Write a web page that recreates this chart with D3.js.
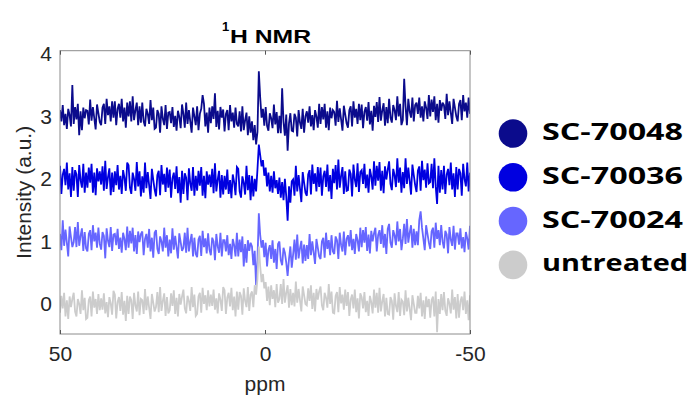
<!DOCTYPE html>
<html>
<head>
<meta charset="utf-8">
<script src="https://cdn.jsdelivr.net/npm/d3@7"></script>
<style>
  html, body { margin: 0; padding: 0; background: #fff; }
  svg { display: block; }
</style>
</head>
<body>
<svg id="chart" width="689" height="402"></svg>
<script>
// ---------- data ----------
const seriesNames = ["SC-70048", "SC-70036", "SC-70024", "untreated"];
const seriesColors = ["#0b0b8c", "#0000e0", "#6666ff", "#cccccc"];
const xTicks = [50, 0, -50];
const yTicks = [0, 1, 2, 3, 4];

const s70048 = [
  3.10, 2.92, 3.18, 2.86, 3.04, 2.80, 3.12, 3.02, 2.84, 3.50,
  2.88, 3.15, 2.95, 3.20, 2.70, 3.08, 2.78, 3.14, 2.97, 3.10,
  3.09, 2.87, 3.27, 2.93, 3.15, 2.97, 2.79, 3.19, 3.05, 2.91,
  2.86, 3.14, 3.20, 2.88, 3.28, 3.02, 3.16, 2.92, 3.24, 2.98,
  3.24, 2.86, 3.12, 3.20, 2.98, 3.28, 2.92, 3.14, 2.82, 3.22,
  3.00, 3.24, 2.92, 3.32, 2.94, 3.10, 3.22, 2.86, 3.16, 2.90,
  3.22, 2.92, 2.84, 3.12, 3.04, 2.88, 3.26, 2.94, 3.14, 2.80,
  2.82, 3.10, 3.04, 2.74, 3.16, 2.96, 2.86, 3.18, 2.80, 3.06,
  3.07, 2.89, 3.15, 2.83, 3.01, 2.77, 3.09, 2.99, 2.81, 3.19,
  3.04, 2.82, 3.22, 2.88, 3.10, 2.92, 2.74, 3.14, 3.00, 2.86,
  3.16, 2.78, 3.04, 3.12, 3.34, 3.20, 2.84, 3.06, 2.74, 3.14,
  2.89, 3.16, 2.96, 3.37, 2.83, 3.09, 2.79, 3.15, 2.98, 3.11,
  2.76, 3.04, 3.10, 2.78, 3.18, 2.92, 3.06, 2.82, 3.14, 2.88,
  2.84, 3.08, 2.76, 3.16, 2.78, 2.94, 3.06, 2.70, 3.00, 2.74,
  2.92, 2.62, 2.86, 2.55, 2.75, 3.72, 3.30, 2.98, 3.12, 2.85,
  3.15, 2.85, 2.77, 3.05, 2.97, 2.81, 3.19, 2.87, 3.07, 2.73,
  3.01, 2.73, 3.45, 2.91, 2.69, 3.03, 2.45, 2.89, 3.05, 2.77,
  2.76, 3.04, 2.98, 2.68, 3.10, 2.90, 2.80, 3.12, 2.74, 3.00,
  3.08, 2.90, 3.16, 2.84, 3.02, 2.78, 3.10, 3.00, 2.82, 3.20,
  2.88, 3.15, 2.95, 3.20, 2.82, 3.08, 2.78, 3.14, 2.97, 3.10,
  3.07, 2.85, 3.25, 2.91, 3.13, 2.95, 2.77, 3.17, 3.03, 2.89,
  2.82, 3.10, 3.16, 2.84, 3.24, 2.98, 3.12, 2.88, 3.20, 2.94,
  3.19, 2.81, 3.07, 3.15, 2.93, 3.23, 2.87, 3.09, 2.77, 3.17,
  2.99, 3.23, 2.91, 3.31, 2.93, 3.09, 3.21, 2.85, 3.15, 2.89,
  3.28, 2.98, 2.90, 3.18, 3.10, 2.94, 3.32, 3.00, 3.20, 2.86,
  2.94, 3.60, 3.16, 2.86, 3.28, 3.08, 2.98, 3.30, 2.92, 3.18,
  3.22, 3.04, 3.30, 2.98, 3.16, 2.92, 3.24, 3.14, 2.96, 3.34,
  3.00, 3.27, 3.07, 3.32, 2.94, 3.20, 2.90, 3.26, 3.09, 3.22,
  3.18, 2.96, 3.36, 3.02, 3.24, 3.06, 2.88, 3.28, 3.14, 3.00,
  2.92, 3.20, 3.26, 2.94, 3.34, 3.08, 3.22, 2.98, 3.30, 3.04
];

const s70036 = [
  2.21, 1.76, 2.07, 2.16, 1.90, 2.26, 1.83, 2.09, 1.71, 2.19,
  1.81, 2.14, 2.07, 1.71, 2.22, 1.98, 1.86, 2.24, 1.78, 2.10,
  1.86, 2.18, 1.94, 2.24, 1.78, 2.10, 1.74, 2.17, 1.96, 2.12,
  1.91, 2.20, 1.81, 2.29, 1.84, 2.03, 2.17, 1.74, 2.10, 1.79,
  2.12, 1.90, 2.22, 1.83, 2.05, 1.76, 2.14, 2.02, 1.81, 2.26,
  2.22, 1.86, 1.76, 2.10, 2.00, 1.81, 2.27, 1.88, 2.12, 1.72,
  2.04, 1.78, 2.26, 1.85, 2.11, 1.90, 1.68, 2.16, 1.99, 1.83,
  1.72, 2.06, 2.13, 1.74, 2.22, 1.91, 2.08, 1.79, 2.18, 1.86,
  2.15, 1.70, 2.01, 2.10, 1.84, 2.20, 1.77, 2.03, 1.62, 2.13,
  1.76, 2.09, 2.02, 1.66, 2.17, 1.93, 1.81, 2.19, 1.73, 2.05,
  1.81, 2.13, 1.89, 2.19, 1.73, 2.05, 1.69, 2.12, 1.91, 2.07,
  1.87, 2.16, 1.77, 2.25, 1.80, 1.99, 2.13, 1.70, 2.06, 1.75,
  2.05, 1.83, 2.15, 1.76, 1.98, 1.69, 2.07, 1.95, 1.74, 2.19,
  2.16, 1.80, 1.70, 2.04, 1.94, 1.75, 2.21, 1.82, 2.06, 1.66,
  2.05, 1.72, 2.00, 1.80, 2.15, 2.55, 2.38, 2.20, 2.30, 2.05,
  2.18, 1.88, 2.10, 1.80, 2.05, 1.78, 2.12, 1.85, 1.98, 1.76,
  2.02, 1.70, 1.95, 1.66, 2.00, 1.72, 1.33, 1.88, 1.62, 1.96,
  1.99, 1.73, 2.21, 1.80, 2.06, 1.85, 1.63, 2.11, 1.94, 1.78,
  1.73, 2.07, 2.14, 1.75, 2.23, 1.92, 2.09, 1.80, 2.19, 1.87,
  2.18, 1.73, 2.04, 2.13, 1.87, 2.23, 1.80, 2.06, 1.68, 2.16,
  1.93, 2.22, 1.83, 2.31, 1.86, 2.05, 2.19, 1.76, 2.12, 1.81,
  1.82, 2.15, 2.08, 1.72, 2.23, 1.99, 1.87, 2.25, 1.79, 2.11,
  2.14, 1.92, 2.24, 1.85, 2.07, 1.78, 2.16, 2.04, 1.83, 2.28,
  1.89, 2.21, 1.97, 2.27, 1.81, 2.13, 1.77, 2.20, 1.99, 2.15,
  2.28, 1.92, 1.82, 2.16, 2.06, 1.87, 2.33, 1.94, 2.18, 1.78,
  2.11, 1.85, 2.33, 1.92, 2.18, 1.97, 1.75, 2.23, 2.06, 1.90,
  1.79, 2.13, 2.20, 1.81, 2.29, 1.98, 2.15, 1.86, 2.25, 1.93,
  1.95, 2.24, 1.85, 2.33, 1.88, 1.60, 2.21, 1.78, 2.14, 1.83,
  2.21, 1.76, 2.07, 2.16, 1.90, 2.26, 1.83, 2.09, 1.71, 2.19,
  1.83, 2.16, 2.09, 1.73, 2.24, 2.00, 1.88, 2.26, 1.80, 2.10
];

const s70024 = [
  1.12, 0.86, 1.34, 0.93, 1.19, 0.98, 0.76, 1.24, 1.07, 0.91,
  0.99, 1.23, 0.91, 1.31, 0.93, 1.09, 1.21, 0.85, 1.15, 0.89,
  0.84, 1.12, 1.18, 0.86, 1.26, 1.00, 1.14, 0.90, 1.22, 0.96,
  0.87, 1.15, 1.09, 0.73, 1.21, 1.01, 0.91, 1.23, 0.85, 1.11,
  1.12, 0.94, 1.20, 0.88, 1.06, 0.82, 1.14, 1.04, 0.86, 1.24,
  0.90, 1.17, 0.97, 1.22, 0.84, 1.10, 0.80, 1.16, 0.99, 1.12,
  1.16, 0.78, 1.04, 1.12, 0.90, 1.20, 0.84, 1.06, 0.74, 1.14,
  1.18, 0.88, 0.80, 1.08, 1.00, 0.84, 1.22, 0.90, 1.10, 0.76,
  1.03, 0.81, 1.21, 0.87, 1.09, 0.91, 0.73, 1.13, 0.99, 0.85,
  0.90, 1.14, 0.82, 1.22, 0.84, 1.00, 1.12, 0.76, 1.06, 0.80,
  0.75, 1.03, 1.09, 0.77, 1.17, 0.91, 1.05, 0.81, 1.13, 0.87,
  0.78, 1.06, 1.00, 0.70, 1.12, 0.92, 0.82, 1.14, 0.76, 1.02,
  1.02, 0.84, 1.10, 0.78, 0.96, 0.72, 1.04, 0.94, 0.76, 1.14,
  0.76, 1.03, 0.83, 1.08, 0.60, 0.96, 0.66, 1.02, 0.85, 0.98,
  0.92, 0.62, 0.85, 0.30, 0.70, 1.45, 1.10, 0.90, 1.02, 0.75,
  0.98, 0.60, 0.86, 0.94, 0.72, 1.02, 0.66, 0.88, 0.56, 0.96,
  1.00, 0.70, 0.62, 0.90, 0.82, 0.66, 0.45, 0.72, 0.92, 0.58,
  0.79, 1.03, 0.71, 1.11, 0.73, 0.89, 1.01, 0.65, 0.95, 0.69,
  0.94, 0.72, 1.12, 0.78, 1.00, 0.82, 0.64, 1.04, 0.90, 0.76,
  0.72, 1.00, 1.06, 0.74, 1.14, 0.88, 1.02, 0.78, 1.10, 0.84,
  0.80, 1.08, 1.02, 0.72, 1.14, 0.94, 0.84, 1.16, 0.78, 1.04,
  1.10, 0.92, 1.18, 0.86, 1.04, 0.80, 1.12, 1.02, 0.84, 1.22,
  0.91, 1.18, 0.98, 1.23, 0.85, 1.11, 0.81, 1.17, 1.00, 1.13,
  1.22, 0.84, 1.10, 1.18, 0.96, 1.26, 0.90, 1.12, 0.80, 1.20,
  1.28, 0.98, 0.90, 1.18, 1.10, 0.94, 1.32, 1.00, 1.20, 0.86,
  1.04, 1.28, 0.96, 1.36, 0.98, 1.14, 1.26, 0.90, 1.20, 0.94,
  1.16, 0.94, 1.34, 1.48, 1.22, 1.04, 0.86, 1.26, 1.12, 0.98,
  0.88, 1.16, 1.22, 0.90, 1.30, 1.04, 1.18, 0.94, 1.26, 1.00,
  0.89, 1.17, 1.11, 0.81, 1.23, 1.03, 0.93, 1.25, 0.87, 1.13,
  1.13, 0.95, 1.21, 0.89, 1.07, 0.83, 1.15, 1.05, 0.87, 1.25
];

const untreated = [
  -0.14, 0.13, -0.07, 0.18, -0.20, 0.06, -0.24, 0.12, -0.05, 0.08,
  0.18, -0.12, -0.20, 0.08, 0.00, -0.16, 0.22, -0.10, 0.10, -0.24,
  -0.22, 0.06, 0.12, -0.20, 0.20, -0.06, 0.08, -0.16, 0.16, -0.10,
  0.09, -0.09, 0.17, -0.15, 0.03, -0.21, 0.11, 0.01, -0.17, 0.21,
  0.15, -0.23, 0.03, 0.11, -0.11, 0.19, -0.17, 0.05, -0.27, 0.13,
  -0.16, 0.12, 0.06, -0.24, 0.18, -0.02, -0.12, 0.20, -0.18, 0.08,
  0.06, -0.16, 0.24, -0.10, 0.12, -0.06, -0.24, 0.16, 0.02, -0.12,
  -0.05, 0.19, -0.13, 0.27, -0.11, 0.05, 0.17, -0.19, 0.11, -0.15,
  -0.10, 0.17, -0.03, 0.22, -0.16, 0.10, -0.20, 0.16, -0.01, 0.12,
  0.23, -0.07, -0.15, 0.13, 0.05, -0.11, 0.27, -0.05, 0.15, -0.19,
  -0.16, 0.12, 0.18, -0.14, 0.26, 0.00, 0.14, -0.10, 0.22, -0.04,
  0.15, -0.03, 0.23, -0.09, 0.09, -0.15, 0.17, 0.07, -0.11, 0.27,
  0.22, -0.16, 0.10, 0.18, -0.04, 0.26, -0.10, 0.12, -0.20, 0.20,
  -0.09, 0.19, 0.13, -0.17, 0.25, 0.05, -0.05, 0.27, -0.11, 0.15,
  0.20, -0.05, 0.30, 0.15, 0.40, 0.92, 0.60, 0.35, 0.48, 0.25,
  0.35, 0.05, 0.28, -0.02, 0.30, 0.08, 0.22, -0.05, 0.32, 0.02,
  0.08, 0.32, 0.00, 0.40, 0.02, 0.18, 0.30, -0.06, 0.24, -0.02,
  0.18, -0.04, 0.36, 0.02, 0.24, 0.06, -0.12, 0.28, 0.14, 0.00,
  -0.02, 0.25, 0.05, 0.30, -0.08, 0.18, -0.12, 0.24, 0.07, 0.20,
  0.28, -0.02, -0.10, 0.18, 0.10, -0.06, 0.32, 0.00, 0.20, -0.14,
  -0.15, 0.13, 0.19, -0.13, 0.27, 0.01, 0.15, -0.09, 0.23, -0.03,
  0.19, -0.19, 0.07, 0.15, -0.07, 0.23, -0.13, 0.09, -0.23, 0.17,
  0.11, -0.07, 0.19, -0.13, 0.05, -0.19, 0.13, 0.03, -0.15, 0.23,
  -0.06, 0.18, -0.14, 0.26, -0.12, 0.04, 0.16, -0.20, 0.10, -0.16,
  -0.17, 0.11, 0.05, -0.25, 0.17, -0.03, -0.13, 0.19, -0.19, 0.07,
  0.04, -0.18, 0.22, -0.12, 0.10, -0.08, -0.26, 0.14, 0.00, -0.14,
  -0.14, 0.13, -0.07, 0.18, -0.20, 0.06, -0.24, 0.12, -0.05, 0.08,
  -0.22, 0.06, 0.12, -0.20, 0.20, -0.45, 0.08, -0.16, 0.16, -0.10,
  0.19, -0.11, -0.19, 0.09, 0.01, -0.15, 0.23, -0.09, 0.11, -0.23,
  0.16, -0.22, 0.04, 0.12, -0.10, 0.20, -0.16, 0.06, -0.26, 0.14
];

const seriesValues = [s70048, s70036, s70024, untreated];
const ppmStart = 50, ppmEnd = -50;

// ---------- layout ----------
const svg = d3.select("#chart");
const plot = { left: 60, right: 470, top: 50.7, bottom: 334 };
const x = d3.scaleLinear().domain([ppmStart, ppmEnd]).range([plot.left, plot.right]);
const y = d3.scaleLinear().domain([-0.48, 4.05]).range([plot.bottom, plot.top]);
const fontTick = "'Liberation Sans', Arial, Helvetica, sans-serif";

svg.append("defs").append("clipPath").attr("id", "clip")
  .append("rect")
  .attr("x", plot.left).attr("y", plot.top)
  .attr("width", plot.right - plot.left).attr("height", plot.bottom - plot.top);

// traces (draw order: 70024, 70036, 70048, untreated on top)
const drawOrder = [2, 1, 0, 3];
const line = d3.line()
  .x(d => x(d.ppm))
  .y(d => y(d.v));
const gTr = svg.append("g").attr("clip-path", "url(#clip)");
drawOrder.forEach(si => {
  const vals = seriesValues[si];
  const n = vals.length;
  const pts = vals.map((v, i) => ({ ppm: ppmStart + (ppmEnd - ppmStart) * i / (n - 1), v }));
  gTr.append("path")
    .attr("d", line(pts))
    .attr("fill", "none")
    .attr("stroke", seriesColors[si])
    .attr("stroke-width", 1.8)
    .attr("stroke-linejoin", "miter")
    .attr("stroke-miterlimit", 3);
});

// frame
svg.append("rect")
  .attr("x", plot.left).attr("y", plot.top)
  .attr("width", plot.right - plot.left).attr("height", plot.bottom - plot.top)
  .attr("fill", "none").attr("stroke", "#8c8c8c").attr("stroke-width", 1);

// x axis (bottom, ticks inside) and top ticks
const fmt = d => String(d);
const xAxis = d3.axisBottom(x).tickValues(xTicks).tickSize(-4).tickPadding(12).tickFormat(fmt);
const gx = svg.append("g").attr("transform", `translate(0,${plot.bottom})`).call(xAxis);
gx.select(".domain").remove();
gx.selectAll(".tick line").attr("stroke", "#555");
gx.selectAll("text").attr("font-family", fontTick).attr("font-size", 21).attr("fill", "#262626");

const xTop = d3.axisTop(x).tickValues(xTicks).tickSize(-4).tickFormat("");
const gxt = svg.append("g").attr("transform", `translate(0,${plot.top})`).call(xTop);
gxt.select(".domain").remove();
gxt.selectAll(".tick line").attr("stroke", "#555");

// y axis labels (no visible tick marks)
const yAxis = d3.axisLeft(y).tickValues(yTicks).tickSize(0).tickPadding(8).tickFormat(fmt);
const gy = svg.append("g").attr("transform", `translate(${plot.left},0)`).call(yAxis);
gy.select(".domain").remove();
gy.selectAll("text").attr("font-family", fontTick).attr("font-size", 21).attr("fill", "#262626");

// axis titles
svg.append("text")
  .attr("x", (plot.left + plot.right) / 2).attr("y", 391)
  .attr("text-anchor", "middle")
  .attr("font-family", fontTick).attr("font-size", 21).attr("fill", "#262626")
  .text("ppm");

svg.append("text")
  .attr("transform", `translate(31,${(plot.top + plot.bottom) / 2}) rotate(-90)`)
  .attr("text-anchor", "middle")
  .attr("font-family", fontTick).attr("font-size", 21).attr("fill", "#262626")
  .text("Intensity (a.u.)");

// title
const titleFont = "'Liberation Sans', Arial, sans-serif";
svg.append("text")
  .attr("x", 222).attr("y", 31)
  .attr("font-family", titleFont).attr("font-weight", "bold").attr("font-size", 13).attr("fill", "#000")
  .text("1");
svg.append("text")
  .attr("x", 230).attr("y", 42.5)
  .attr("font-family", titleFont).attr("font-weight", "bold").attr("font-size", 18).attr("fill", "#000")
  .attr("textLength", 81).attr("lengthAdjust", "spacingAndGlyphs")
  .text("H NMR");

// legend
const lg = svg.append("g");
seriesNames.forEach((name, i) => {
  const base = 140 + i * 43.8;
  lg.append("circle")
    .attr("cx", 513).attr("cy", base - 6.5).attr("r", 14.3)
    .attr("fill", seriesColors[i]);
  lg.append("text")
    .attr("x", 542).attr("y", base)
    .attr("font-family", "'Open Sans', 'Liberation Sans', sans-serif")
    .attr("font-weight", "bold").attr("font-size", 24).attr("fill", "#000")
    .attr("textLength", i === 3 ? 146 : 141)
    .attr("lengthAdjust", "spacingAndGlyphs")
    .text(name);
});
</script>
</body>
</html>
